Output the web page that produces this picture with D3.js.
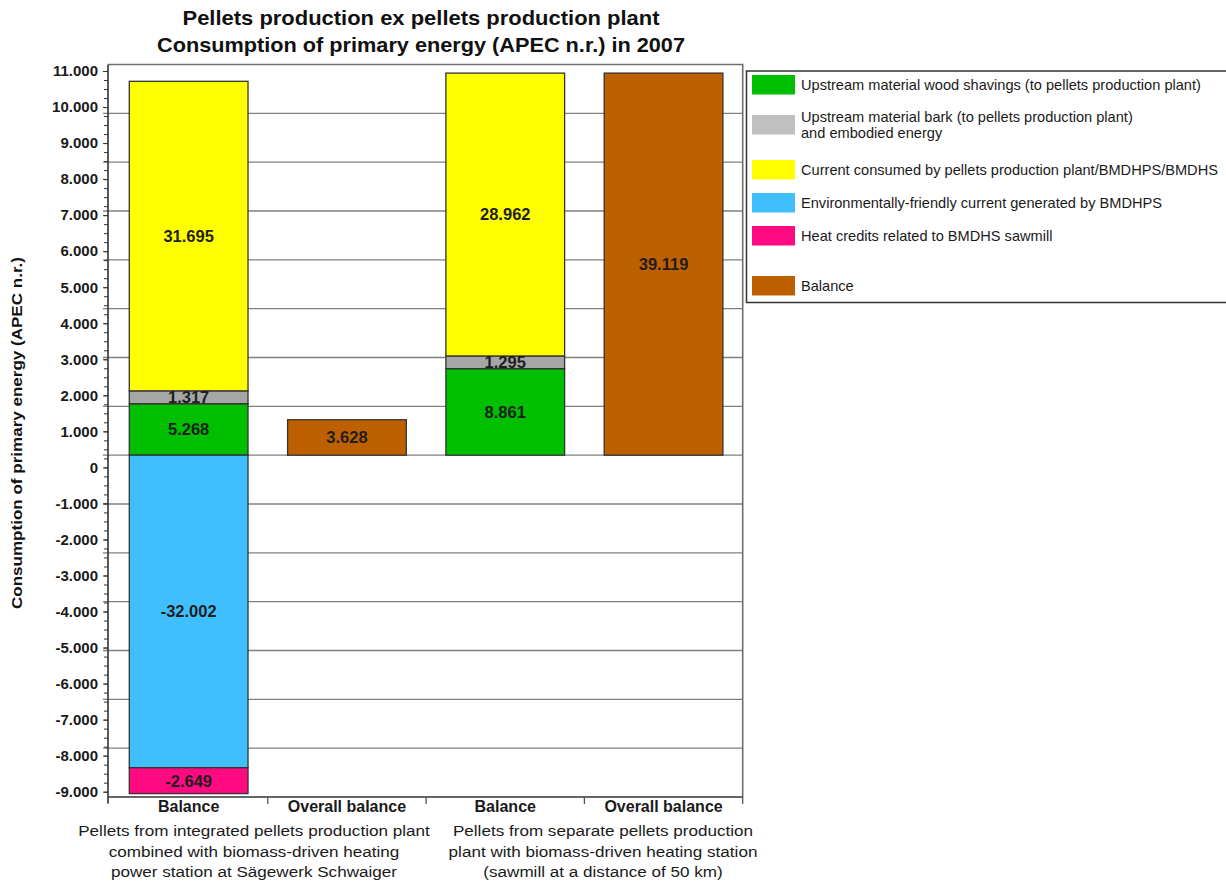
<!DOCTYPE html>
<html>
<head>
<meta charset="utf-8">
<script src="https://cdn.jsdelivr.net/npm/d3@7/dist/d3.min.js"></script>
<style>
  body { margin: 0; background: #fff; }
  text { font-family: "Liberation Sans", Arial, sans-serif; }
</style>
</head>
<body>
<svg id="chart" width="1226" height="881"></svg>
<script>
// ---- data ----
const categories = ["int-balance", "int-overall", "sep-balance", "sep-overall"];
const categoryLabels = ["Balance", "Overall balance", "Balance", "Overall balance"];
const groupLabels = [
  ["Pellets from integrated pellets production plant", "combined with biomass-driven heating", "power station at Sägewerk Schwaiger"],
  ["Pellets from separate pellets production", "plant with biomass-driven heating station", "(sawmill at a distance of 50 km)"]
];
const seriesKeys = ["wood", "bark", "current", "envCurrent", "heat", "balance"];
const seriesLabels = [
  ["Upstream material wood shavings (to pellets production plant)"],
  ["Upstream material bark (to pellets production plant)", "and embodied energy"],
  ["Current consumed by pellets production plant/BMDHPS/BMDHS"],
  ["Environmentally-friendly current generated by BMDHPS"],
  ["Heat credits related to BMDHS sawmill"],
  ["Balance"]
];
const woodShavings = [5268, 0, 8861, 0];
const barkEmbodied = [1317, 0, 1295, 0];
const currentConsumed = [31695, 0, 28962, 0];
const envCurrent = [-32002, 0, 0, 0];
const heatCredits = [-2649, 0, 0, 0];
const balance = [0, 3628, 0, 39119];
const tickLabels = [11000, 10000, 9000, 8000, 7000, 6000, 5000, 4000, 3000, 2000, 1000, 0,
  -1000, -2000, -3000, -4000, -5000, -6000, -7000, -8000, -9000];

// ---- styles ----
const colors = {
  wood: "#00bf00", bark: "#a6a6a6", current: "#ffff00",
  envCurrent: "#40bfff", heat: "#ff0a80", balance: "#bf6000"
};
const legendColors = Object.assign({}, colors, { bark: "#c0c0c0" });

const locale = d3.formatLocale({ decimal: ",", thousands: ".", grouping: [3], currency: ["", ""], minus: "-" });
const fmt = locale.format(",");

const svg = d3.select("#chart");
svg.append("rect").attr("width", 1226).attr("height", 881).attr("fill", "#fff");

const plot = { left: 108, right: 742.7, top: 64.5, bottom: 797 };

const y = d3.scaleLinear().domain([-35000, 40000]).range([plot.bottom, plot.top]);
const x = d3.scaleBand().domain(categories).range([109.5, plot.right]).paddingInner(0.25).paddingOuter(0.125);
// scale used by the printed axis labels
const yLabel = d3.scaleLinear().domain([-9000, 11000]).range([791.7, 71]);

// rows for stacking
const rows = categories.map((c, i) => ({
  cat: c,
  wood: woodShavings[i], bark: barkEmbodied[i], current: currentConsumed[i],
  envCurrent: envCurrent[i], heat: heatCredits[i], balance: balance[i]
}));
const stacked = d3.stack().keys(seriesKeys).offset(d3.stackOffsetDiverging)(rows);

// gridlines
svg.append("g").selectAll("line")
  .data(d3.range(-30000, 40000, 5000))
  .join("line")
  .attr("x1", 103).attr("x2", plot.right)
  .attr("y1", d => y(d)).attr("y2", d => y(d))
  .attr("stroke", "#808080").attr("stroke-width", 1.3);

// plot frame (top and right)
svg.append("path")
  .attr("d", `M${plot.left},${plot.top}H${plot.right}V${plot.bottom}`)
  .attr("fill", "none").attr("stroke", "#6e6e6e").attr("stroke-width", 1.6);

// bars
const segs = svg.append("g").selectAll("g")
  .data(stacked)
  .join("g")
  .attr("fill", d => colors[d.key]);

segs.selectAll("rect")
  .data(d => d.filter(p => p[1] !== p[0]))
  .join("rect")
  .attr("x", d => x(d.data.cat))
  .attr("width", x.bandwidth())
  .attr("y", d => y(Math.max(d[0], d[1])))
  .attr("height", d => Math.abs(y(d[0]) - y(d[1])))
  .attr("stroke", "#333").attr("stroke-width", 1.3);

// value labels
const labelData = [];
stacked.forEach(s => s.forEach(p => {
  const v = p.data[s.key];
  if (v !== 0) labelData.push({ cat: p.data.cat, mid: (p[0] + p[1]) / 2, v });
}));
svg.append("g").selectAll("text")
  .data(labelData)
  .join("text")
  .attr("x", d => x(d.cat) + x.bandwidth() / 2)
  .attr("y", d => y(d.mid))
  .attr("dy", "0.36em")
  .attr("text-anchor", "middle")
  .attr("font-size", 16.5).attr("font-weight", "bold").attr("fill", "#1e1e1e")
  .text(d => fmt(d.v));

// left axis with printed labels
const axisG = svg.append("g").attr("transform", `translate(${plot.left},0)`);
axisG.call(d3.axisLeft(yLabel).tickValues(d3.range(-9000, 11001, 250)).tickSize(4).tickFormat(""))
  .call(g => g.select(".domain").remove())
  .call(g => g.selectAll("line").attr("stroke", "#333"));
axisG.append("g").call(d3.axisLeft(yLabel).tickValues(tickLabels).tickSize(5).tickPadding(5).tickFormat(fmt))
  .call(g => g.select(".domain").remove())
  .call(g => g.selectAll("line").attr("stroke", "#333"))
  .call(g => g.selectAll("text").attr("font-size", 15).attr("font-weight", "bold")
    .attr("fill", "#1a1a1a").attr("font-family", '"Liberation Sans", Arial, sans-serif'));
svg.append("line").attr("x1", plot.left).attr("x2", plot.left)
  .attr("y1", plot.top).attr("y2", plot.bottom + 6).attr("stroke", "#333").attr("stroke-width", 1.6);

// bottom axis
svg.append("line").attr("x1", plot.left).attr("x2", plot.right)
  .attr("y1", plot.bottom).attr("y2", plot.bottom).attr("stroke", "#333").attr("stroke-width", 1.6);
const step = x.step();
const dividers = [plot.left].concat(categories.slice(1).map(c => x(c) - step * x.paddingInner() / 2)).concat([plot.right]);
svg.append("g").selectAll("line").data(dividers).join("line")
  .attr("x1", d => d).attr("x2", d => d)
  .attr("y1", plot.bottom).attr("y2", plot.bottom + 7)
  .attr("stroke", "#555").attr("stroke-width", 1.3);

svg.append("g").selectAll("text").data(categories).join("text")
  .attr("x", d => x(d) + x.bandwidth() / 2)
  .attr("y", 812)
  .attr("text-anchor", "middle")
  .attr("font-size", 16).attr("font-weight", "bold").attr("fill", "#1a1a1a")
  .text((d, i) => categoryLabels[i]);

// group captions (slightly widened lettering)
const groupCenters = [254, 603];
groupLabels.forEach((lines, gi) => {
  svg.append("g")
    .attr("transform", `translate(${groupCenters[gi]},0) scale(1.14,1)`)
    .append("text")
    .attr("text-anchor", "middle")
    .attr("font-size", 15).attr("fill", "#1a1a1a")
    .selectAll("tspan").data(lines).join("tspan")
    .attr("x", 0)
    .attr("y", (d, i) => 836.5 + i * 20.5)
    .text(d => d);
});

// title
const titleLines = ["Pellets production ex pellets production plant", "Consumption of primary energy (APEC n.r.) in 2007"];
const titleWidths = [477, 528];
svg.append("g").selectAll("text").data(titleLines).join("text")
  .attr("x", 421).attr("y", (d, i) => 25 + i * 27)
  .attr("text-anchor", "middle")
  .attr("font-size", 21).attr("font-weight", "bold").attr("fill", "#111")
  .attr("textLength", (d, i) => titleWidths[i]).attr("lengthAdjust", "spacingAndGlyphs")
  .text(d => d);

// y axis title
svg.append("text")
  .attr("transform", "translate(22,433) rotate(-90)")
  .attr("text-anchor", "middle")
  .attr("font-size", 15).attr("font-weight", "bold").attr("fill", "#111")
  .attr("textLength", 352).attr("lengthAdjust", "spacingAndGlyphs")
  .text("Consumption of primary energy (APEC n.r.)");

// legend
const legend = svg.append("g");
legend.append("rect")
  .attr("x", 746.5).attr("y", 71).attr("width", 520).attr("height", 231.5)
  .attr("fill", "#fff").attr("stroke", "#333").attr("stroke-width", 1.5);
const legendTops = [75, 115, 160, 193, 226, 276];
seriesKeys.forEach((k, i) => {
  const top = legendTops[i];
  legend.append("rect")
    .attr("x", 752).attr("y", top).attr("width", 43).attr("height", 19.5)
    .attr("fill", legendColors[k]);
  const lines = seriesLabels[i];
  const cy = top + 10;
  legend.append("text")
    .attr("font-size", 14.6).attr("fill", "#1a1a1a")
    .selectAll("tspan").data(lines).join("tspan")
    .attr("x", 801)
    .attr("y", (d, j) => cy + (j - (lines.length - 1) / 2) * 16 + 5.2)
    .text(d => d);
});
</script>
</body>
</html>
